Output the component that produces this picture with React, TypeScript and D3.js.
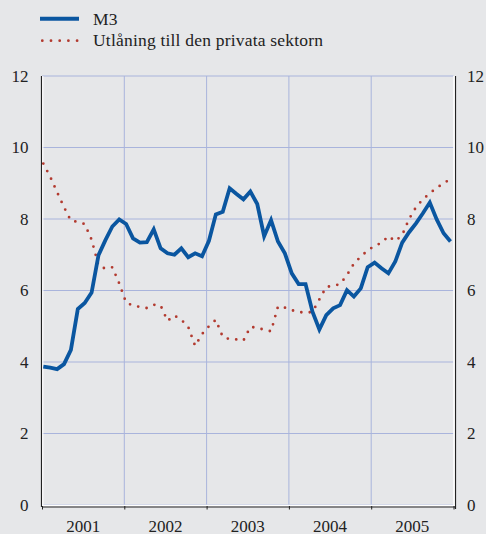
import React from "react";
import * as d3 from "d3";

const years = ["2001", "2002", "2003", "2004", "2005"];
const yTicks = [0, 2, 4, 6, 8, 10, 12];

const m3 = [
  3.87, 3.84, 3.8, 3.94, 4.34, 5.48, 5.65, 5.94, 6.99, 7.41, 7.79, 7.99,
  7.86, 7.46, 7.34, 7.35, 7.71, 7.18, 7.04, 7.0, 7.18, 6.93, 7.04, 6.96,
  7.39, 8.13, 8.2, 8.86, 8.7, 8.55, 8.77, 8.42, 7.52, 7.97, 7.37, 7.04,
  6.48, 6.18, 6.18, 5.41, 4.91, 5.31, 5.5, 5.59, 6.01, 5.83, 6.06, 6.65,
  6.78, 6.62, 6.48, 6.81, 7.34, 7.63, 7.88, 8.16, 8.46, 7.99, 7.6, 7.37,
];

const lending = [
  9.55, 9.18, 8.75, 8.33, 7.95, 7.92, 7.86, 7.42, 6.7, 6.61, 6.65, 6.2,
  5.66, 5.58, 5.54, 5.51, 5.6, 5.58, 5.15, 5.3, 5.18, 4.98, 4.45, 4.78,
  5.0, 5.18, 4.7, 4.64, 4.63, 4.6, 4.98, 4.96, 4.9, 4.86, 5.55, 5.52,
  5.45, 5.4, 5.38, 5.4, 5.75, 6.1, 6.13, 6.18, 6.43, 6.75, 6.95, 7.12,
  7.25, 7.33, 7.52, 7.38, 7.55, 8.0, 8.33, 8.55, 8.72, 8.87, 9.0, 9.12,
];

const seriesNames = ["M3", "Utlåning till den privata sektorn"];

const W = 486;
const H = 534;
const left = 42;
const right = 453.5;
const top = 76;
const bottom = 505;

const BG = "#e6e7e9";
const BLUE = "#0a56a0";
const RED = "#b23a2f";
const GRID = "#a9b4dc";
const FONT = "Liberation Serif, Times New Roman, DejaVu Serif, serif";
const textStyle = { fontFamily: FONT };
const legendStyle = { fontFamily: FONT, letterSpacing: "0.2px" };

export default function App() {
  const y = d3.scaleLinear().domain([0, 12]).range([bottom, top]);
  const yearX = d3.scaleLinear().domain([0, years.length]).range([left, right]);
  const x = d3.scaleLinear().domain([0, 59]).range([43.3, 450.5]);

  const line = d3
    .line<number>()
    .x((_, i) => x(i))
    .y((d) => y(d));

  return (
    <svg
      width={W}
      height={H}
      style={{ position: "absolute", left: 0, top: 0, background: BG }}
    >
      <rect x={0} y={0} width={W} height={H} fill={BG} />
      {/* legend */}
      <line x1={40} x2={79} y1={18.7} y2={18.7} stroke={BLUE} strokeWidth={4} />
      <text x={93} y={25} fontSize={17.5} fill="#222" style={legendStyle}>
        {seriesNames[0]}
      </text>
      <line
        x1={42.3}
        x2={79}
        y1={40.7}
        y2={40.7}
        stroke={RED}
        strokeWidth={2.8}
        strokeLinecap="round"
        strokeDasharray="0 8.7"
      />
      <text x={93} y={45.5} fontSize={17.5} fill="#222" style={legendStyle}>
        {seriesNames[1]}
      </text>

      {/* grid */}
      {yTicks.map((t) => (
        <line
          key={"h" + t}
          x1={left}
          x2={right}
          y1={y(t)}
          y2={y(t)}
          stroke={GRID}
          strokeWidth={1}
        />
      ))}
      {d3.range(1, years.length).map((i) => (
        <line
          key={"v" + i}
          x1={yearX(i)}
          x2={yearX(i)}
          y1={top}
          y2={bottom}
          stroke={GRID}
          strokeWidth={1}
        />
      ))}

      {/* axes */}
      <line x1={left - 0.5} x2={left - 0.5} y1={top} y2={bottom + 2} stroke="#222" strokeWidth={1.2} />
      <line x1={left + 0.8} x2={left + 0.8} y1={top} y2={bottom} stroke="#fff" strokeWidth={1.2} />
      <line x1={right + 2} x2={right + 2} y1={top} y2={bottom + 4} stroke="#222" strokeWidth={1.2} />
      <line x1={right + 0.5} x2={right + 0.5} y1={top} y2={bottom + 1} stroke="#fff" strokeWidth={1.5} />
      <line x1={left} x2={right + 1.5} y1={bottom + 0.5} y2={bottom + 0.5} stroke="#fff" strokeWidth={1.5} />
      <line x1={left} x2={right + 1.5} y1={bottom + 2} y2={bottom + 2} stroke="#222" strokeWidth={1.1} />
      {d3.range(0, years.length + 1).map((i) => (
        <line
          key={"t" + i}
          x1={yearX(i) + 0.5}
          x2={yearX(i) + 0.5}
          y1={bottom + 1}
          y2={bottom + 4.5}
          stroke="#222"
          strokeWidth={1}
        />
      ))}

      {/* y tick labels */}
      {yTicks.map((t) => (
        <g key={"yl" + t}>
          <text x={28.5} y={y(t) + 5.5} fontSize={17} textAnchor="end" fill="#222" style={textStyle}>
            {t}
          </text>
          <text x={467} y={y(t) + 5.5} fontSize={17} textAnchor="start" fill="#222" style={textStyle}>
            {t}
          </text>
        </g>
      ))}

      {/* x labels */}
      {years.map((yr, i) => (
        <text
          key={yr}
          x={yearX(i + 0.5)}
          y={531.5}
          fontSize={17}
          textAnchor="middle"
          fill="#222"
          style={textStyle}
        >
          {yr}
        </text>
      ))}

      {/* series */}
      <path
        d={line(lending) || ""}
        fill="none"
        stroke={RED}
        strokeWidth={2.8}
        strokeLinecap="round"
        strokeDasharray="0 8.5"
      />
      <path
        d={line(m3) || ""}
        fill="none"
        stroke={BLUE}
        strokeWidth={3.8}
        strokeLinejoin="miter"
      />
    </svg>
  );
}
